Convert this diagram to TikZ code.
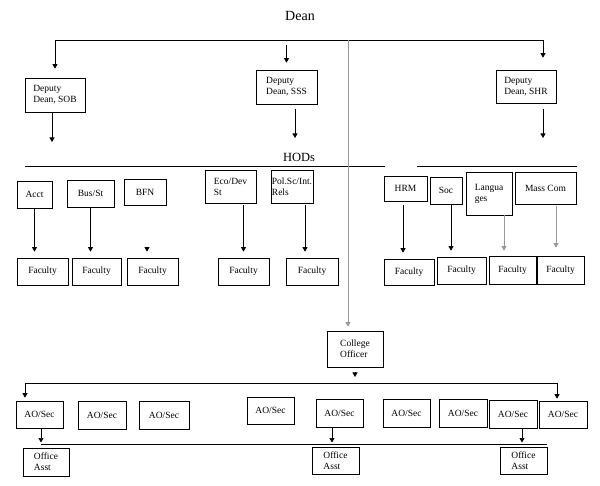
\documentclass[tikz,border=0pt]{standalone}
\usepackage{fontspec}
\setmainfont{Liberation Serif}
\usetikzlibrary{arrows.meta, calc}

\begin{document}
\begin{tikzpicture}[x=1pt, y=-1pt, >={Triangle[length=4.5pt,width=5pt]},
	box/.style={draw, line width=0.7pt, inner sep=1pt, align=left,
		font=\fontsize{9.5}{11}\selectfont},
	bar/.style={draw, line width=0.7pt},
	arr/.style={bar, ->},
	grayarr/.style={arr, draw=black!40}]
	\useasboundingbox (0,0) rectangle (600,486);

	% dean and deputies
	\node (dean) at (300,16) [font=\fontsize{14}{16}\selectfont] {Dean};
	\node (sob) at (55,95) [box, minimum width=60pt, minimum height=34pt] {Deputy\\Dean, SOB};
	\node (sss) at (286.5,87) [box, minimum width=61pt, minimum height=34pt] {Deputy\\Dean, SSS};
	\node (shr) at (526,86.5) [box, minimum width=60pt, minimum height=33pt] {Deputy\\Dean, SHR};
	\node (hods) at (299,157) [font=\fontsize{12.5}{14}\selectfont] {HODs};

	\coordinate (busL) at (55,40);
	\coordinate (busR) at (543,40);
	\coordinate (ctop) at (348,40);
	\coordinate (hodL) at (25,166);
	\coordinate (hodM) at (385,166);
	\coordinate (hodN) at (417,166);
	\coordinate (hodR) at (577,166);

	\path[arr, shorten >=9pt] (busR) -- (busL) -- (sob.north);
	\path[arr, shorten >=12pt] (busR) -- (busR |- shr.north);
	\path[arr, shorten <=5pt, shorten >=7pt] (sss.north |- busL) -- (sss.north);

	\path[arr, shorten >=24pt] ([xshift=-3pt]sob.south) -- ([xshift=-3pt]sob.south |- hodL);
	\path[arr, shorten <=5pt, shorten >=28pt] ([xshift=8.5pt]sss.south) -- ([xshift=8.5pt]sss.south |- hodL);
	\path[arr, shorten <=6pt, shorten >=28pt] (busR |- shr.south) -- (busR |- hodL);

	\path[bar] (hodL) -- (hodM);
	\path[bar] (hodN) -- (hodR);

	% heads of department
	\node (acct) at (34.5,194.5) [box, minimum width=35pt, minimum height=27pt] {Acct};
	\node (bus) at (90.5,193.5) [box, minimum width=47pt, minimum height=27pt] {Bus/St};
	\node (bfn) at (145,192) [box, minimum width=42pt, minimum height=26pt] {BFN};
	\node (eco) at (230.5,186.5) [box, minimum width=51pt, minimum height=33pt] {Eco/Dev\\St};
	\node (pol) at (292,186.5) [box, minimum width=40pt, minimum height=33pt] {Pol.Sc/Int.\\Rels};
	\node (hrm) at (405.5,188.5) [box, minimum width=43pt, minimum height=25pt] {HRM};
	\node (soc) at (446,190.5) [box, minimum width=32pt, minimum height=27pt] {Soc};
	\node (lang) at (489,193.5) [box, minimum width=46pt, minimum height=43pt] {Langua\\ges};
	\node (mass) at (545.5,188) [box, minimum width=61pt, minimum height=32pt] {Mass Com};

	% faculty
	\node (f1) at (42.5,271.5) [box, minimum width=51pt, minimum height=27pt] {Faculty};
	\node (f2) at (96.5,271.5) [box, minimum width=49pt, minimum height=27pt] {Faculty};
	\node (f3) at (152.5,271.5) [box, minimum width=51pt, minimum height=27pt] {Faculty};
	\node (f4) at (243.5,271.5) [box, minimum width=51pt, minimum height=27pt] {Faculty};
	\node (f5) at (312,271.5) [box, minimum width=52pt, minimum height=27pt] {Faculty};
	\node (f6) at (409,272) [box, minimum width=50pt, minimum height=26pt] {Faculty};
	\node (f7) at (461.5,270.5) [box, minimum width=49pt, minimum height=27pt] {Faculty};
	\node (f8) at (512.5,270) [box, minimum width=47pt, minimum height=28pt] {Faculty};
	\node (f9) at (560.5,270) [box, minimum width=47pt, minimum height=28pt] {Faculty};

	\path[arr, shorten >=6pt] (acct.south) -- (acct.south |- f1.north);
	\path[arr, shorten >=6pt] (bus.south) -- (bus.south |- f2.north);
	\path[arr, shorten <=45pt, shorten >=6pt] ([xshift=2pt]bfn.south) -- ([xshift=2pt]bfn.south |- f3.north);
	\path[arr, shorten <=2pt, shorten >=6pt] (f4.north |- eco.south) -- (f4.north);
	\path[arr, shorten <=2pt, shorten >=6pt] ([xshift=13pt]pol.south) -- ([xshift=13pt]pol.south |- f5.north);
	\path[arr, shorten <=4pt, shorten >=6pt] ([xshift=-2.5pt]hrm.south) -- ([xshift=-2.5pt]hrm.south |- f6.north);
	\path[arr, shorten >=6pt] ([xshift=5pt]soc.south) -- ([xshift=5pt]soc.south |- f7.north);
	\path[grayarr, shorten >=5pt] ([xshift=15pt]lang.south) -- ([xshift=15pt]lang.south |- f8.north);
	\path[grayarr, shorten <=2pt, shorten >=8pt] ([xshift=10.5pt]mass.south) -- ([xshift=10.5pt]mass.south |- f9.north);

	% college officer and secretaries
	\node (college) at (355,349) [box, minimum width=56pt, minimum height=36pt] {College\\Officer};
	\path[grayarr, shorten >=4pt] (ctop) -- (ctop |- college.north);

	\coordinate (aoL) at (25,383);
	\coordinate (aoR) at (557,383);
	\node (ao1) at (39.5,414.5) [box, minimum width=47pt, minimum height=27pt] {AO/Sec};
	\node (ao2) at (102,415) [box, minimum width=48pt, minimum height=28pt] {AO/Sec};
	\node (ao3) at (164,415) [box, minimum width=50pt, minimum height=28pt] {AO/Sec};
	\node (ao4) at (270.5,410.5) [box, minimum width=47pt, minimum height=27pt] {AO/Sec};
	\node (ao5) at (339.5,413) [box, minimum width=47pt, minimum height=28pt] {AO/Sec};
	\node (ao6) at (406.5,413) [box, minimum width=47pt, minimum height=28pt] {AO/Sec};
	\node (ao7) at (463,413) [box, minimum width=48pt, minimum height=28pt] {AO/Sec};
	\node (ao8) at (513,414) [box, minimum width=48pt, minimum height=28pt] {AO/Sec};
	\node (ao9) at (563,414.5) [box, minimum width=48pt, minimum height=27pt] {AO/Sec};

	\path[arr, shorten <=5pt, shorten >=6pt] (college.south) -- (college.south |- aoL);
	\path[arr, <->, shorten <=3pt, shorten >=2pt] (aoL |- ao1.north) -- (aoL) -- (aoR) -- (aoR |- ao9.north);

	% office assistants
	\coordinate (obL) at (41,444);
	\coordinate (obR) at (547,444);
	\node (oa1) at (46,462) [box, minimum width=46pt, minimum height=28pt] {Office\\Asst};
	\node (oa2) at (335.5,460.5) [box, minimum width=47pt, minimum height=27pt] {Office\\Asst};
	\node (oa3) at (523.5,460.5) [box, minimum width=47pt, minimum height=27pt] {Office\\Asst};

	\path[bar] (obL) -- (obR);
	\path[arr, shorten >=1.5pt] ([xshift=1.5pt]ao1.south) -- ([xshift=1.5pt]ao1.south |- obL);
	\path[arr, shorten >=1.5pt] ([xshift=-7.5pt]ao5.south) -- ([xshift=-7.5pt]ao5.south |- obL);
	\path[arr, shorten >=1.5pt] ([xshift=9pt]ao8.south) -- ([xshift=9pt]ao8.south |- obL);
\end{tikzpicture}
\end{document}
